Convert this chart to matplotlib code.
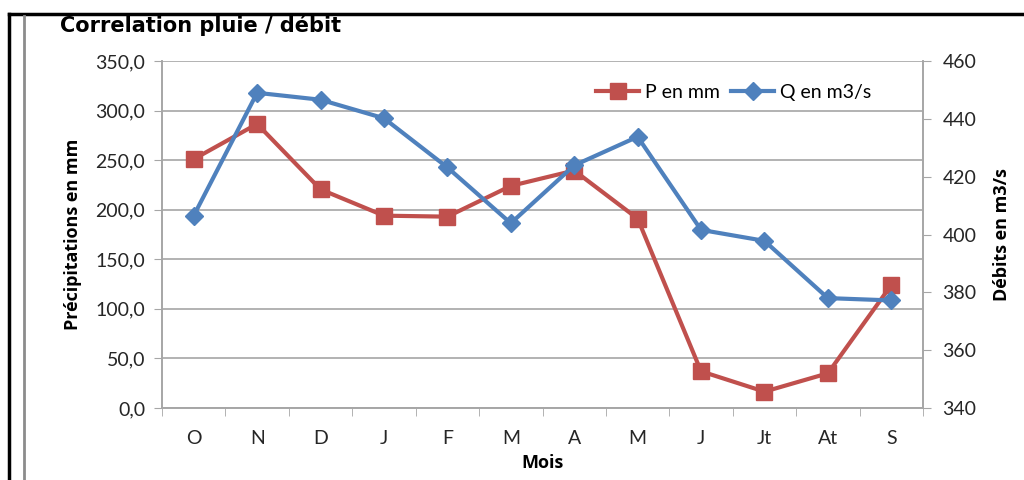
import matplotlib
matplotlib.use("Agg")
import matplotlib.pyplot as plt
from matplotlib.lines import Line2D
import numpy as np

months = ["O", "N", "D", "J", "F", "M", "A", "M", "J", "Jt", "At", "S"]
precip_mm = [251, 286.5, 220.5, 194, 193, 224, 239.5, 191, 37, 16.5, 35, 124]
debit_m3s = [406.5, 449, 446.6, 440.2, 423.2, 403.9, 423.9, 433.8, 401.6, 397.8, 378, 377.2]
left_ticks = [0, 50, 100, 150, 200, 250, 300, 350]
right_ticks = [340, 360, 380, 400, 420, 440, 460]

red = "#C0504D"
blue = "#4F81BD"
grid_gray = "#A6A6A6"
tick_font = "Lato"

fig = plt.figure(figsize=(10.24, 4.8), dpi=100)
ax = fig.add_axes([162/1024, 1-408/480, (923-162)/1024, (408-61)/480])
ax2 = ax.twinx()

x = np.arange(len(months))
ax.plot(x, precip_mm, color=red, lw=3, marker="s", ms=12, zorder=3)
ax2.plot(x, debit_m3s, color=blue, lw=3, marker="D", ms=9, zorder=3)

ax.set_xlim(-0.5, len(months) - 0.5)
ax.set_ylim(0, 350)
ax2.set_ylim(340, 460)
ax.set_yticks(left_ticks)
ax.set_yticklabels([f"{v:.1f}".replace(".", ",") for v in left_ticks],
                   fontsize=14, family=tick_font, color="#262626")
ax2.set_yticks(right_ticks)
ax2.set_yticklabels([str(v) for v in right_ticks], fontsize=14, family=tick_font, color="#262626")
ax.set_xticks(x)
ax.set_xticklabels(months, fontsize=14, family=tick_font, color="#262626")
ax.set_xticks(np.arange(-0.5, len(months)), minor=True)
ax.tick_params(axis="x", which="major", length=0, pad=16)
ax.tick_params(axis="x", which="minor", length=6, color=grid_gray, direction="out")
ax.tick_params(axis="y", length=6, color=grid_gray, pad=6)
ax2.tick_params(axis="y", length=6, color=grid_gray, pad=8)

ax.grid(axis="y", color=grid_gray, lw=1.2, zorder=0)
for a in (ax, ax2):
    a.spines["top"].set_visible(False)
    for s in ("left", "right", "bottom"):
        a.spines[s].set_color(grid_gray)
        a.spines[s].set_linewidth(1.2)

ax.set_ylabel("Précipitations en mm", fontsize=13, fontweight="bold", family="Open Sans", labelpad=10)
ax2.set_ylabel("Débits en m3/s", fontsize=13, fontweight="bold", family="Open Sans", labelpad=12)
ax.set_xlabel("Mois", fontsize=13, fontweight="bold", family="Open Sans", labelpad=5)

fig.text(60/1024, 1-25/480, "Correlation pluie / débit", fontsize=15, fontweight="bold",
         family="DejaVu Sans", va="center", ha="left")

handles = [Line2D([], [], color=red, lw=3, marker="s", ms=12),
           Line2D([], [], color=blue, lw=3, marker="D", ms=9)]
ax2.legend(handles, ["P en mm", "Q en m3/s"], loc="upper right", bbox_to_anchor=(0.955, 0.985),
           frameon=False, ncol=2, prop={"family": tick_font, "size": 14},
           handlelength=2.2, columnspacing=0.6, handletextpad=0.3)

# outer frame lines
fig.add_artist(Line2D([9/1024, 9/1024], [0, 1-14/480], color="black", lw=2.5, transform=fig.transFigure))
fig.add_artist(Line2D([9/1024, 1], [1-14/480, 1-14/480], color="black", lw=2.5, transform=fig.transFigure))
fig.add_artist(Line2D([23.5/1024, 23.5/1024], [0, 1-16/480], color="#8C8C8C", lw=2, transform=fig.transFigure))

fig.savefig("out.png", dpi=100)
